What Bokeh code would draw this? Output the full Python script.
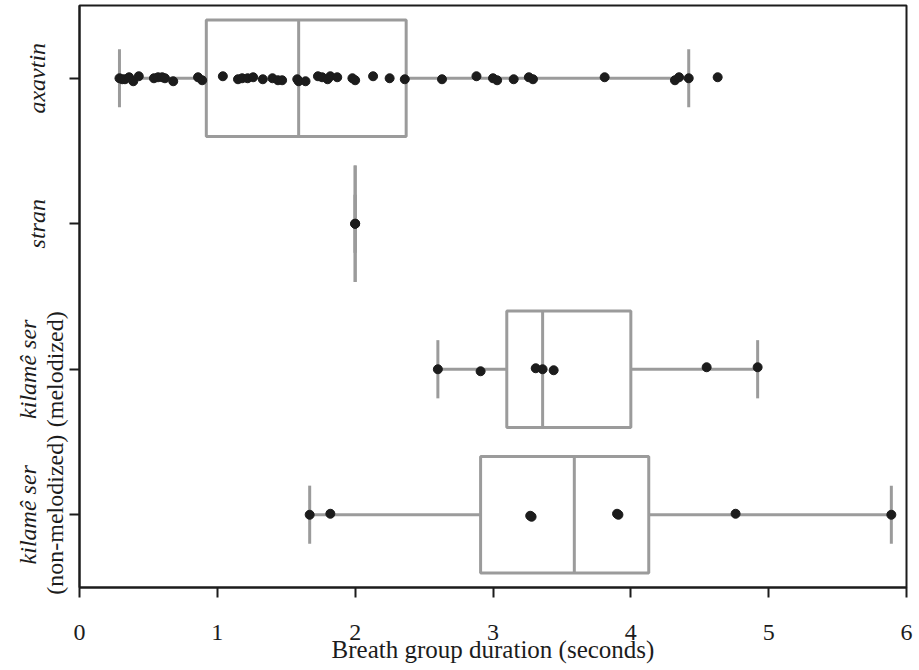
from bokeh.plotting import figure
from bokeh.models import Range1d, FixedTicker, LinearAxis
from bokeh.embed import file_html
from bokeh.resources import INLINE

# ---------------- data ----------------
groups = ["axavtin", "stran", "melodized", "non-melodized"]
group_pos = [3.5, 2.5, 1.5, 0.5]
single_labels = {3.5: "axavtin", 2.5: "stran"}
line1_labels = {1.5: "kilamê ser", 0.5: "kilamê ser"}
line2_labels = {1.5: "(melodized)", 0.5: "(non-melodized)"}

q1 = [0.92, 2.00, 3.10, 2.91]
median = [1.59, 2.00, 3.36, 3.59]
q3 = [2.37, 2.00, 4.00, 4.13]
whisker_lo = [0.29, 2.00, 2.60, 1.67]
whisker_hi = [4.42, 2.00, 4.92, 5.89]

axavtin_vals = [0.29, 0.31, 0.33, 0.36, 0.39, 0.43, 0.54, 0.57, 0.60, 0.62, 0.68,
                0.86, 0.89, 1.04, 1.15, 1.18, 1.22, 1.26, 1.33, 1.40, 1.44, 1.47,
                1.58, 1.59, 1.64, 1.73, 1.76, 1.80, 1.82, 1.87, 1.98, 2.00, 2.13,
                2.25, 2.36, 2.63, 2.88, 3.00, 3.03, 3.15, 3.26, 3.29, 3.81, 4.32,
                4.35, 4.42, 4.63]
axavtin_dy = [0, 1, 1, -1, 3, -2, 0, -1, -1, 0, 3, -1, 2, -2, 1, 0, 0, -1, 1, 0, 2, 2,
              1, 3, 3, -2, -1, 1, -2, -1, 0, 2, -2, 0, 1, 1, -2, 0, 2, 1, -1, 1, -1,
              2, -1, 0, -1]
stran_vals = [2.00, 2.00]
stran_dy = [0, 0]
mel_vals = [2.60, 2.91, 3.31, 3.36, 3.44, 4.55, 4.92]
mel_dy = [0, 2, -1, 0, 1, -2, -2]
nonmel_vals = [1.67, 1.82, 3.27, 3.28, 3.90, 3.91, 4.76, 5.89]
nonmel_dy = [0, -1, 1, 2, -1, 0, -1, 0]

x_ticks = [0, 1, 2, 3, 4, 5, 6]

# ---------------- figure ----------------
GRAY = "#9b9b9b"
DARK = "#1c1c1c"
FONT = "Liberation Serif"
BAND_PX = 145.5

p = figure(width=913, height=668, x_range=Range1d(0, 6), y_range=Range1d(0, 4),
           output_backend="svg", toolbar_location=None,
           min_border_left=79, min_border_right=7, min_border_top=5, min_border_bottom=81)
p.xgrid.visible = False
p.ygrid.visible = False
p.outline_line_color = DARK
p.outline_line_width = 2
p.background_fill_color = "white"

half = 0.4
cap = 0.2
bottoms = [g - half for g in group_pos]
tops = [g + half for g in group_pos]

p.segment(x0=whisker_lo, x1=q1, y0=group_pos, y1=group_pos, line_color=GRAY, line_width=3)
p.segment(x0=q3, x1=whisker_hi, y0=group_pos, y1=group_pos, line_color=GRAY, line_width=3)
p.segment(x0=whisker_lo, x1=whisker_lo, y0=[g - cap for g in group_pos],
          y1=[g + cap for g in group_pos], line_color=GRAY, line_width=3)
p.segment(x0=whisker_hi, x1=whisker_hi, y0=[g - cap for g in group_pos],
          y1=[g + cap for g in group_pos], line_color=GRAY, line_width=3)
p.quad(left=q1, right=q3, bottom=bottoms, top=tops, fill_color=None,
       line_color=GRAY, line_width=3)
p.segment(x0=median, x1=median, y0=bottoms, y1=tops, line_color=GRAY, line_width=3)

for vals, dys, gpos in [(axavtin_vals, axavtin_dy, group_pos[0]),
                        (stran_vals, stran_dy, group_pos[1]),
                        (mel_vals, mel_dy, group_pos[2]),
                        (nonmel_vals, nonmel_dy, group_pos[3])]:
    ys = [gpos - d / BAND_PX for d in dys]
    p.scatter(x=vals, y=ys, size=9, fill_color=DARK, line_color=DARK)

# x axis
xa = p.xaxis[0]
xa.ticker = FixedTicker(ticks=x_ticks)
xa.minor_tick_line_color = None
xa.major_tick_out = 10
xa.major_tick_in = 0
xa.major_tick_line_width = 2
xa.axis_line_width = 2
xa.axis_line_color = DARK
xa.major_tick_line_color = DARK
xa.major_label_text_font = FONT
xa.major_label_text_font_size = "24px"
xa.major_label_text_color = DARK
xa.major_label_standoff = 27
xa.axis_label = "Breath group duration (seconds)"
xa.axis_label_text_font = FONT
xa.axis_label_text_font_size = "25px"
xa.axis_label_text_font_style = "normal"
xa.axis_label_text_color = DARK
xa.axis_label_standoff = -7

# y axis (inner): ticks + regular second lines
ya = p.yaxis[0]
ya.ticker = FixedTicker(ticks=group_pos)
ya.major_label_overrides = {**{k: "" for k in single_labels}, **line2_labels}
ya.minor_tick_line_color = None
ya.major_tick_out = 10
ya.major_tick_in = 0
ya.major_tick_line_width = 2
ya.axis_line_width = 2
ya.axis_line_color = DARK
ya.major_tick_line_color = DARK
ya.major_label_orientation = "vertical"
ya.major_label_text_font = FONT
ya.major_label_text_font_size = "24px"
ya.major_label_text_color = DARK
ya.major_label_standoff = 2

# italic first lines
yb = LinearAxis(ticker=FixedTicker(ticks=list(line1_labels.keys())),
                major_label_overrides=line1_labels)
# italic single-line labels
yc = LinearAxis(ticker=FixedTicker(ticks=list(single_labels.keys())),
                major_label_overrides=single_labels)
for ax, so in [(yb, -2), (yc, -38)]:
    ax.axis_line_color = None
    ax.major_tick_line_color = None
    ax.minor_tick_line_color = None
    ax.major_tick_out = 0
    ax.major_tick_in = 0
    ax.major_label_orientation = "vertical"
    ax.major_label_text_font = FONT
    ax.major_label_text_font_size = "24px"
    ax.major_label_text_font_style = "italic"
    ax.major_label_text_color = DARK
    ax.major_label_standoff = so
    p.add_layout(ax, "left")

open("out.html", "w").write(file_html(p, INLINE))
